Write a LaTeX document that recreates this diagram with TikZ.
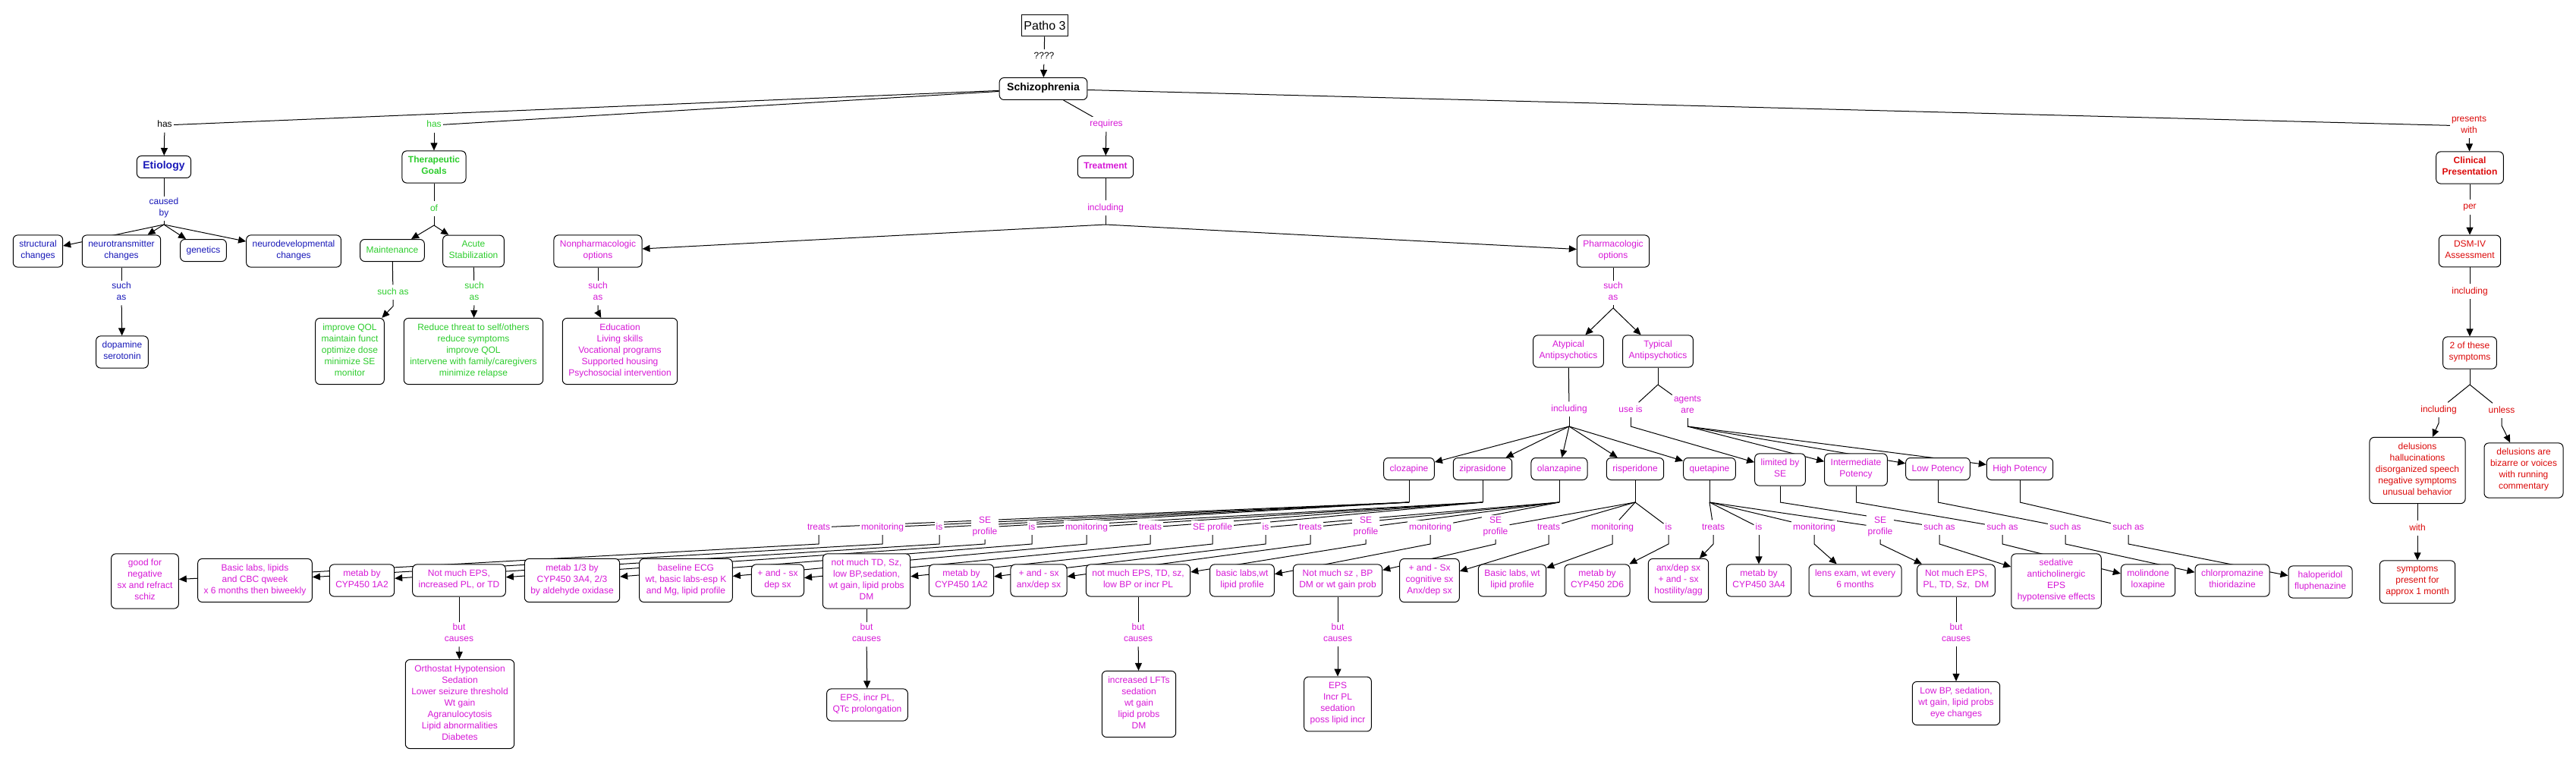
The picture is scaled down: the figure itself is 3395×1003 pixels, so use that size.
\documentclass[tikz,border=0pt]{standalone}
\usepackage{fontspec}
\setmainfont{Liberation Sans}
\usetikzlibrary{arrows.meta}

\definecolor{azul}{RGB}{25,25,185}
\definecolor{verde}{RGB}{45,205,45}
\definecolor{morado}{RGB}{215,25,215}
\definecolor{rojo}{RGB}{220,10,10}

\pgfdeclarelayer{fondo}
\pgfsetlayers{fondo,main}

\tikzset{
  concepto/.style={draw, line width=1pt, rounded corners=6pt, fill=white,
    align=center, inner xsep=8pt, inner ysep=7pt,
    font=\fontsize{12}{15}\selectfont,
    execute at begin node=\strut, execute at end node=\strut},
  titulo/.style={concepto, font=\fontsize{12}{15}\selectfont\bfseries},
  enlace/.style={fill=white, align=center, inner sep=2pt,
    font=\fontsize{12}{15}\selectfont,
    execute at begin node=\strut, execute at end node=\strut},
  linea/.style={line width=1pt},
  flecha/.style={line width=1pt, -{Stealth[length=10pt,width=9pt,inset=0pt]}},
}

\begin{document}
\begin{tikzpicture}[x=1pt, y=-1pt]
  % Marco de la imagen
  \useasboundingbox (0,0) rectangle (3395,1003);

  % Raiz
  \node[draw, line width=1pt, fill=white, minimum width=61pt, minimum height=28pt,
        font=\fontsize{16}{18}\selectfont] (patho) at (1377,34) {Patho 3};
  \node[enlace] (preg) at (1376,75) {????};
  \node[titulo, font=\fontsize{14}{15}\selectfont\bfseries, inner xsep=10pt] (esquizo) at (1375,117) {Schizophrenia};

  % Frases del primer nivel
  \node[enlace] (tiene1) at (217,165) {has};
  \node[enlace, text=verde] (tiene2) at (572,165) {has};
  \node[enlace, text=morado] (requiere) at (1458,164) {requires};
  \node[enlace, text=rojo] (presenta) at (3254,166) {presents\\with};

  % Etiologia
  \node[titulo, text=azul, font=\fontsize{14}{15}\selectfont\bfseries] (etiologia) at (216,220) {Etiology};
  \node[enlace, text=azul] (causado) at (216,275) {caused\\by};
  \node[concepto, text=azul] (estruct) at (50,331) {structural\\changes};
  \node[concepto, text=azul] (neurotr) at (160,331) {neurotransmitter\\changes};
  \node[concepto, text=azul] (genetica) at (268,330) {genetics};
  \node[concepto, text=azul] (neurodes) at (387,331) {neurodevelopmental\\changes};
  \node[enlace, text=azul] (comoA) at (160,386) {such\\as};
  \node[concepto, text=azul] (dopamina) at (161,464) {dopamine\\serotonin};

  % Metas terapeuticas
  \node[titulo, text=verde] (metas) at (572,220) {Therapeutic\\Goals};
  \node[enlace, text=verde] (de) at (572,275) {of};
  \node[concepto, text=verde] (manten) at (517,330) {Maintenance};
  \node[concepto, text=verde] (agudo) at (624,331) {Acute\\Stabilization};
  \node[enlace, text=verde] (comoB) at (518,385) {such as};
  \node[enlace, text=verde] (comoC) at (625,386) {such\\as};
  \node[concepto, text=verde] (metasM) at (461,463) {improve QOL\\maintain funct\\optimize dose\\minimize SE\\monitor};
  \node[concepto, text=verde] (metasA) at (624,463) {Reduce threat to self/others\\reduce symptoms\\improve QOL\\intervene with family/caregivers\\minimize relapse};

  % Tratamiento
  \node[titulo, text=morado] (tratam) at (1457,220) {Treatment};
  \node[enlace, text=morado] (incluyeA) at (1457,274) {including};
  \node[concepto, text=morado] (nofarm) at (788,331) {Nonpharmacologic\\options};
  \node[enlace, text=morado] (comoD) at (788,386) {such\\as};
  \node[concepto, text=morado] (nofarmL) at (817,463) {Education\\Living skills\\Vocational programs\\Supported housing\\Psychosocial intervention};
  \node[concepto, text=morado] (farm) at (2126,331) {Pharmacologic\\options};
  \node[enlace, text=morado] (comoE) at (2126,386) {such\\as};
  \node[concepto, text=morado] (atip) at (2067,463) {Atypical\\Antipsychotics};
  \node[concepto, text=morado] (tip) at (2185,463) {Typical\\Antipsychotics};
  \node[enlace, text=morado] (incluyeB) at (2068,539) {including};
  \node[enlace, text=morado] (usoes) at (2149,540) {use is};
  \node[enlace, text=morado] (agentes) at (2224,535) {agents\\are};

  % Farmacos y potencias
  \foreach \n/\x/\txt in {clo/1857/clozapine, zip/1954/ziprasidone, ola/2055/olanzapine,
      ris/2155/risperidone, que/2253/quetapine}
    \node[concepto, text=morado] (\n) at (\x,618) {\txt};
  \node[concepto, text=morado] (lim) at (2346,619) {limited by\\SE};
  \node[concepto, text=morado] (int) at (2446,619) {Intermediate\\Potency};
  \node[concepto, text=morado] (baj) at (2554,618) {Low Potency};
  \node[concepto, text=morado] (alt) at (2662,618) {High Potency};

  % Frases de los farmacos
  \foreach \n/\x/\txt in {lclo1/1079/treats, lclo2/1163/monitoring, lclo3/1238/is, lclo4/1298/SE\\profile,
      lzip1/1360/is, lzip2/1432/monitoring, lzip3/1516/treats, lzip4/1598/SE profile,
      lola1/1668/is, lola2/1727/treats, lola3/1800/SE\\profile, lola4/1885/monitoring,
      lris1/1971/SE\\profile, lris2/2041/treats, lris3/2125/monitoring, lris4/2199/is,
      lque1/2258/treats, lque2/2318/is, lque3/2391/monitoring, lque4/2478/SE\\profile,
      llim/2556/such as, lint/2639/such as, lbaj/2722/such as, lalt/2805/such as}
    \node[enlace, text=morado] (\n) at (\x,695) {\txt};

  % Datos de cada farmaco
  \node[concepto, text=morado] (clo1) at (191,766) {good for\\negative\\sx and refract\\schiz};
  \node[concepto, text=morado] (clo2) at (336,765) {Basic labs, lipids\\and CBC qweek\\x 6 months then biweekly};
  \node[concepto, text=morado] (clo3) at (477,765) {metab by\\CYP450 1A2};
  \node[concepto, text=morado] (clo4) at (605,765) {Not much EPS,\\increased PL, or TD};
  \node[concepto, text=morado] (zip1) at (754,765) {metab 1/3 by\\CYP450 3A4, 2/3\\by aldehyde oxidase};
  \node[concepto, text=morado] (zip2) at (904,765) {baseline ECG\\wt, basic labs-esp K\\and Mg, lipid profile};
  \node[concepto, text=morado] (zip3) at (1025,765) {+ and - sx\\dep sx};
  \node[concepto, text=morado] (zip4) at (1142,766) {not much TD, Sz,\\low BP,sedation,\\wt gain, lipid probs\\DM};
  \node[concepto, text=morado] (ola1) at (1267,765) {metab by\\CYP450 1A2};
  \node[concepto, text=morado] (ola2) at (1369,765) {+ and - sx\\anx/dep sx};
  \node[concepto, text=morado] (ola3) at (1500,765) {not much EPS, TD, sz,\\low BP or incr PL};
  \node[concepto, text=morado] (ola4) at (1637,765) {basic labs,wt\\lipid profile};
  \node[concepto, text=morado] (ris1) at (1763,765) {Not much sz , BP\\DM or wt gain prob};
  \node[concepto, text=morado] (ris2) at (1884,765) {+ and - Sx\\cognitive sx\\Anx/dep sx};
  \node[concepto, text=morado] (ris3) at (1993,765) {Basic labs, wt\\lipid profile};
  \node[concepto, text=morado] (ris4) at (2105,765) {metab by\\CYP450 2D6};
  \node[concepto, text=morado] (que1) at (2212,765) {anx/dep sx\\+ and - sx\\hostility/agg};
  \node[concepto, text=morado] (que2) at (2318,765) {metab by\\CYP450 3A4};
  \node[concepto, text=morado] (que3) at (2445,765) {lens exam, wt every\\6 months};
  \node[concepto, text=morado] (que4) at (2578,765) {Not much EPS,\\PL, TD, Sz,\ \ DM};
  \node[concepto, text=morado] (sed) at (2710,766) {sedative\\anticholinergic\\EPS\\hypotensive effects};
  \node[concepto, text=morado] (mol) at (2831,765) {molindone\\loxapine};
  \node[concepto, text=morado] (clor) at (2942,765) {chlorpromazine\\thioridazine};
  \node[concepto, text=morado] (hal) at (3058,767) {haloperidol\\fluphenazine};

  % Efectos adversos
  \foreach \n/\x in {clo/605, zip/1142, ola/1500, ris/1763, que/2578}
    \node[enlace, text=morado] (bc\n) at (\x,836) {but\\causes};
  \node[concepto, text=morado] (efclo) at (606,928) {Orthostat Hypotension\\Sedation\\Lower seizure threshold\\Wt gain\\Agranulocytosis\\Lipid abnormalities\\Diabetes};
  \node[concepto, text=morado] (efzip) at (1143,929) {EPS, incr PL,\\QTc prolongation};
  \node[concepto, text=morado] (efola) at (1501,928) {increased LFTs\\sedation\\wt gain\\lipid probs\\DM};
  \node[concepto, text=morado] (efris) at (1763,928) {EPS\\Incr PL\\sedation\\poss lipid incr};
  \node[concepto, text=morado] (efque) at (2578,927) {Low BP, sedation,\\wt gain, lipid probs\\eye changes};

  % Presentacion clinica
  \node[titulo, text=rojo] (clinica) at (3255,221) {Clinical\\Presentation};
  \node[enlace, text=rojo] (segun) at (3255,273) {per};
  \node[concepto, text=rojo] (dsm) at (3255,331) {DSM-IV\\Assessment};
  \node[enlace, text=rojo] (incluyeC) at (3255,384) {including};
  \node[concepto, text=rojo] (dos) at (3255,465) {2 of these\\symptoms};
  \node[enlace, text=rojo] (incluyeD) at (3214,540) {including};
  \node[enlace, text=rojo] (salvo) at (3297,541) {unless};
  \node[concepto, text=rojo] (sintomas) at (3186,620) {delusions\\hallucinations\\disorganized speech\\negative symptoms\\unusual behavior};
  \node[concepto, text=rojo] (bizarro) at (3326,620) {delusions are\\bizarre or voices\\with running\\commentary};
  \node[enlace, text=rojo] (con) at (3186,696) {with};
  \node[concepto, text=rojo] (mes) at (3186,767) {symptoms\\present for\\approx 1 month};

  % Conectores (detras de los nodos)
  \begin{pgfonlayer}{fondo}
    \draw[linea] (patho) -- (preg);
    \draw[flecha] (preg) -- (esquizo);
    \foreach \e in {tiene1, tiene2, requiere, presenta}
      \draw[linea] (esquizo) -- (\e);

    % Etiologia
    \draw[flecha] (tiene1) -- (etiologia);
    \draw[linea] (etiologia) -- (causado);
    \coordinate (jcaus) at (216,296);
    \draw[linea] (causado) -- (jcaus);
    \foreach \e in {estruct, neurotr, genetica, neurodes}
      \draw[flecha] (jcaus) -- (\e);
    \draw[linea] (neurotr) -- (comoA);
    \draw[flecha] (comoA) -- (dopamina);

    % Metas
    \draw[flecha] (tiene2) -- (metas);
    \draw[linea] (metas) -- (de);
    \coordinate (jde) at (572,297);
    \draw[linea] (de) -- (jde);
    \draw[flecha] (jde) -- (manten);
    \draw[flecha] (jde) -- (agudo);
    \draw[linea] (manten) -- (comoB);
    \draw[flecha] (comoB.south) -- ++(0,9) -- (metasM);
    \draw[linea] (agudo) -- (comoC);
    \draw[flecha] (comoC) -- (metasA);

    % Tratamiento
    \draw[flecha] (requiere) -- (tratam);
    \draw[linea] (tratam) -- (incluyeA);
    \coordinate (jtrat) at (1457,296);
    \draw[linea] (incluyeA) -- (jtrat);
    \draw[flecha] (jtrat) -- (nofarm);
    \draw[flecha] (jtrat) -- (farm);
    \draw[linea] (nofarm) -- (comoD);
    \draw[flecha] (comoD.south) -- ++(0,9) -- (nofarmL);
    \draw[linea] (farm) -- (comoE);
    \coordinate (jfarm) at (2126,406);
    \draw[linea] (comoE) -- (jfarm);
    \draw[flecha] (jfarm) -- (atip);
    \draw[flecha] (jfarm) -- (tip);
    \draw[linea] (atip) -- (incluyeB);
    \coordinate (jatip) at (2068,562);
    \draw[linea] (incluyeB) -- (jatip);
    \foreach \d in {clo, zip, ola, ris, que}
      \draw[flecha] (jatip) -- (\d);
    \coordinate (jtip) at (2185,507);
    \draw[linea] (tip) -- (jtip);
    \draw[linea] (jtip) -- (usoes);
    \draw[linea] (jtip) -- (agentes);
    \coordinate (juso) at (2149,562);
    \draw[linea] (usoes) -- (juso);
    \draw[flecha] (juso) -- (lim);
    \coordinate (jagen) at (2224,562);
    \draw[linea] (agentes) -- (jagen);
    \foreach \d in {int, baj, alt}
      \draw[flecha] (jagen) -- (\d);

    % Farmacos a frases
    \foreach \d/\ls in {clo/{lclo1,lclo2,lclo3,lclo4}, zip/{lzip1,lzip2,lzip3,lzip4},
        ola/{lola1,lola2,lola3,lola4}, ris/{lris1,lris2,lris3,lris4},
        que/{lque1,lque2,lque3,lque4}, lim/{llim}, int/{lint}, baj/{lbaj}, alt/{lalt}}{
      \draw[linea] (\d.south) -- (\d.south |- 0,662) coordinate (j\d);
      \foreach \e in \ls
        \draw[linea] (j\d) -- (\e);
    }

    % Frases a datos
    \foreach \d in {clo, zip, ola, ris, que}
      \foreach \k in {1,2,3,4}
        \draw[flecha] (l\d\k.south) -- (l\d\k.south |- 0,717) -- (\d\k);
    \foreach \a/\b in {llim/sed, lint/mol, lbaj/clor, lalt/hal}
      \draw[flecha] (\a.south) -- (\a.south |- 0,717) -- (\b);

    % Efectos
    \foreach \s/\d in {clo4/clo, zip4/zip, ola3/ola, ris1/ris, que4/que}{
      \draw[linea] (\s) -- (bc\d);
      \draw[flecha] (bc\d) -- (ef\d);
    }

    % Clinica
    \draw[flecha] (presenta) -- (clinica);
    \draw[linea] (clinica) -- (segun);
    \draw[flecha] (segun) -- (dsm);
    \draw[linea] (dsm) -- (incluyeC);
    \draw[flecha] (incluyeC) -- (dos);
    \coordinate (jdos) at (3255,507);
    \draw[linea] (dos) -- (jdos);
    \draw[linea] (jdos) -- (incluyeD);
    \draw[linea] (jdos) -- (salvo);
    \draw[flecha] (incluyeD.south) -- ++(0,8) -- (sintomas);
    \draw[flecha] (salvo.south) -- ++(0,10) -- (bizarro);
    \draw[linea] (sintomas) -- (con);
    \draw[flecha] (con) -- (mes);
  \end{pgfonlayer}
\end{tikzpicture}
\end{document}
